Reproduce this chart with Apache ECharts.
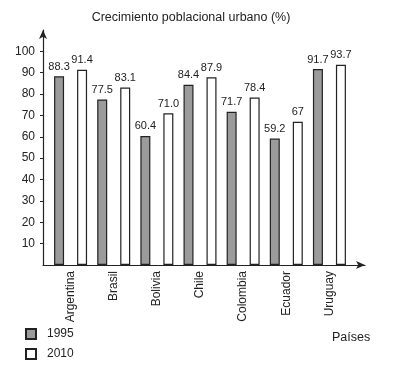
<!DOCTYPE html>
<html>
<head>
<meta charset="utf-8">
<script src="https://cdn.jsdelivr.net/npm/echarts@6/dist/echarts.min.js"></script>
<style>
  html, body { margin: 0; padding: 0; background: #fff; }
  #chart { width: 400px; height: 376px; }
</style>
</head>
<body>
<div id="chart"></div>
<script>
const countries = ['Argentina', 'Brasil', 'Bolivia', 'Chile', 'Colombia', 'Ecuador', 'Uruguay']
const values1995 = [88.3, 77.5, 60.4, 84.4, 71.7, 59.2, 91.7]
const values2010 = [91.4, 83.1, 71.0, 87.9, 78.4, 67, 93.7]
const labels1995 = ['88.3', '77.5', '60.4', '84.4', '71.7', '59.2', '91.7']
const labels2010 = ['91.4', '83.1', '71.0', '87.9', '78.4', '67', '93.7']
const yTicks = [10, 20, 30, 40, 50, 60, 70, 80, 90, 100]

const font = 'Liberation Sans, Arial, sans-serif'
const ink = '#222'

const chart = echarts.init(document.getElementById('chart'))
chart.setOption({
  backgroundColor: '#fff',
  animation: false,
  title: [
    {
      text: 'Crecimiento poblacional urbano (%)',
      left: 186, top: 6, textAlign: 'center',
      textStyle: { fontFamily: font, fontSize: 12.5, fontWeight: 'normal', color: ink }
    },
    {
      text: 'Países',
      left: 327, top: 326,
      textStyle: { fontFamily: font, fontSize: 12.5, fontWeight: 'normal', color: ink }
    }
  ],
  legend: {
    orient: 'vertical',
    left: 20, top: 323,
    icon: 'rect',
    itemWidth: 10, itemHeight: 10, itemGap: 8,
    textStyle: { fontFamily: font, fontSize: 12, color: ink, padding: [0, 0, 0, 6] },
    data: ['1995', '2010']
  },
  grid: [
    // axis frame with arrows
    { left: 43, right: 35, top: 30, bottom: 111 },
    // bars
    { left: 49, right: 49, top: 30, bottom: 111 }
  ],
  xAxis: [
    {
      gridIndex: 0, type: 'value', min: 0, max: 1,
      axisLine: { lineStyle: { color: ink, width: 1.2 }, symbol: ['none', 'arrow'], symbolSize: [6, 9] },
      axisTick: { show: false }, axisLabel: { show: false }, splitLine: { show: false }
    },
    {
      gridIndex: 1, type: 'category', data: countries,
      axisLine: { show: false }, axisTick: { show: false },
      axisLabel: { rotate: 90, margin: 6, fontFamily: font, fontSize: 12, color: ink }
    }
  ],
  yAxis: [
    {
      gridIndex: 0, type: 'value', min: 0, max: 110, interval: 10,
      axisLine: { show: true, lineStyle: { color: ink, width: 1.2 }, symbol: ['none', 'arrow'], symbolSize: [6, 9] },
      axisTick: { show: true, length: 3, customValues: yTicks, lineStyle: { color: ink } },
      axisLabel: { customValues: yTicks, margin: 8, fontFamily: font, fontSize: 12, color: ink },
      splitLine: { show: false }
    },
    {
      gridIndex: 1, type: 'value', min: 0, max: 110, show: false
    }
  ],
  series: [
    {
      name: '1995', type: 'bar', xAxisIndex: 1, yAxisIndex: 1,
      data: values1995, barWidth: 10, barGap: '130%',
      itemStyle: { color: '#9b9b9b', borderColor: '#222', borderWidth: 1.2 },
      label: {
        show: true, position: 'top', distance: 4,
        fontFamily: font, fontSize: 11, color: ink,
        formatter: p => labels1995[p.dataIndex]
      }
    },
    {
      name: '2010', type: 'bar', xAxisIndex: 1, yAxisIndex: 1,
      data: values2010, barWidth: 10,
      itemStyle: { color: '#fff', borderColor: '#222', borderWidth: 1.2 },
      label: {
        show: true, position: 'top', distance: 4,
        fontFamily: font, fontSize: 11, color: ink,
        formatter: p => labels2010[p.dataIndex]
      }
    }
  ]
})
</script>
</body>
</html>
